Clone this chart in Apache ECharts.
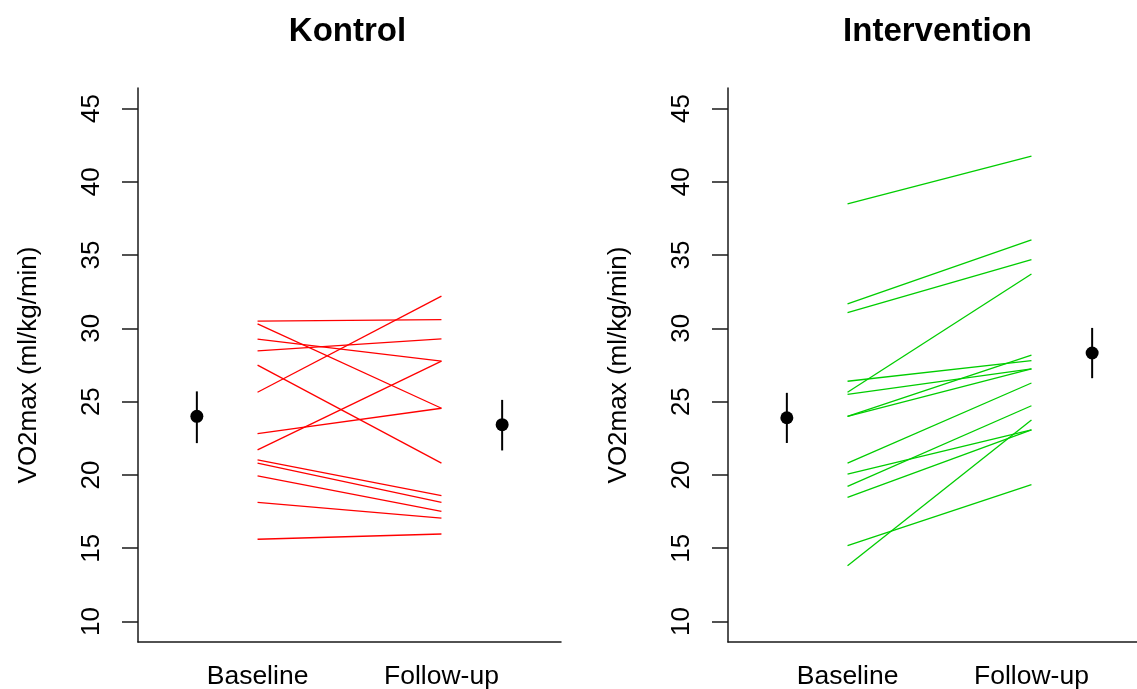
<!DOCTYPE html>
<html>
<head>
<meta charset="utf-8">
<script src="https://cdn.jsdelivr.net/npm/echarts@6/dist/echarts.min.js"></script>
<style>
  html, body { margin: 0; padding: 0; background: #ffffff; }
  #chart { width: 1137px; height: 689px; }
</style>
</head>
<body>
<div id="chart"></div>
<script>
// Measurement occasions (x positions 1 and 2)
const timepoints = ['Baseline', 'Follow-up'];
const yTicks = [10, 15, 20, 25, 30, 35, 40, 45];

// Kontrol: one value per subject at each occasion
const kontrolBaseline = [30.49, 30.3, 29.26, 28.46, 27.49, 25.64, 22.82, 21.71, 21.02, 20.8, 19.93, 18.13, 15.61];
const kontrolFollowup = [30.6, 24.55, 27.76, 29.28, 20.8, 32.2, 24.55, 27.76, 18.59, 18.13, 17.52, 17.05, 15.97];

// Intervention: one value per subject at each occasion
const interventionBaseline = [38.49, 31.67, 31.07, 26.39, 25.64, 25.5, 24.0, 24.0, 20.81, 20.06, 19.22, 18.47, 15.17, 13.8];
const interventionFollowup = [41.75, 36.03, 34.69, 27.8, 33.71, 27.23, 28.18, 27.23, 26.27, 23.07, 24.72, 23.07, 19.33, 23.75];

// Group means with interval, drawn beside each occasion
const meanX = [0.67, 2.33];
const kontrolMean = [24.0, 23.43];
const kontrolLower = [22.17, 21.67];
const kontrolUpper = [25.7, 25.12];
const interventionMean = [23.9, 28.32];
const interventionLower = [22.18, 26.6];
const interventionUpper = [25.6, 30.03];

const FONT = "'Liberation Sans', Arial, sans-serif";
const AXIS_COLOR = '#1a1a1a';

function xAxisFor(gridIndex) {
  return {
    gridIndex, type: 'value', min: 0.35, max: 2.65,
    axisLine: { show: true, onZero: false, lineStyle: { color: AXIS_COLOR, width: 1.5 } },
    axisTick: { show: false },
    splitLine: { show: false },
    axisLabel: {
      customValues: [1, 2],
      formatter: v => timepoints[Math.round(v) - 1],
      fontFamily: FONT, fontSize: 26.5, color: '#000', margin: 21
    }
  };
}

function yAxisFor(gridIndex) {
  return {
    gridIndex, type: 'value', min: 8.6, max: 46.4,
    name: 'VO2max (ml/kg/min)', nameLocation: 'middle', nameGap: 96, nameRotate: 90,
    nameTextStyle: { fontFamily: FONT, fontSize: 26, color: '#000' },
    axisLine: { show: true, onZero: false, lineStyle: { color: AXIS_COLOR, width: 1.5 } },
    axisTick: { show: true, length: 16, customValues: yTicks, lineStyle: { color: AXIS_COLOR, width: 1.5 } },
    splitLine: { show: false },
    axisLabel: {
      customValues: yTicks, rotate: 90, margin: 33,
      fontFamily: FONT, fontSize: 26, color: '#000'
    }
  };
}

// One line per subject joining its two occasions
function subjectLines(axisIndex, before, after, color) {
  return before.map((b, i) => ({
    type: 'line', xAxisIndex: axisIndex, yAxisIndex: axisIndex,
    data: [[1, b], [2, after[i]]],
    symbol: 'none', silent: true,
    lineStyle: { color, width: 1.3 }
  }));
}

// Mean dot with a vertical interval bar
function meanBars(axisIndex, means, lows, highs) {
  return {
    type: 'custom', xAxisIndex: axisIndex, yAxisIndex: axisIndex, silent: true,
    data: means.map((m, i) => [meanX[i], m, lows[i], highs[i]]),
    renderItem(params, api) {
      const x = api.value(0);
      const top = api.coord([x, api.value(3)]);
      const bot = api.coord([x, api.value(2)]);
      const c = api.coord([x, api.value(1)]);
      return {
        type: 'group',
        children: [
          { type: 'line', shape: { x1: top[0], y1: top[1], x2: bot[0], y2: bot[1] },
            style: { stroke: '#000', lineWidth: 2 } },
          { type: 'circle', shape: { cx: c[0], cy: c[1], r: 6.5 }, style: { fill: '#000' } }
        ]
      };
    }
  };
}

const chart = echarts.init(document.getElementById('chart'), null, { renderer: 'canvas' });
chart.setOption({
  animation: false,
  backgroundColor: '#ffffff',
  // Both panels share the same size; the right one runs past the page edge
  grid: [
    { left: 138, top: 88, width: 423, height: 554, outerBoundsMode: 'none' },
    { left: 728, top: 88, width: 423, height: 554, outerBoundsMode: 'none' }
  ],
  xAxis: [xAxisFor(0), xAxisFor(1)],
  yAxis: [yAxisFor(0), yAxisFor(1)],
  graphic: [
    { type: 'text', x: 347.5, y: 32,
      style: { text: 'Kontrol', font: "bold 33px " + FONT, fill: '#000', textAlign: 'center', textVerticalAlign: 'middle' } },
    { type: 'text', x: 937.5, y: 32,
      style: { text: 'Intervention', font: "bold 33px " + FONT, fill: '#000', textAlign: 'center', textVerticalAlign: 'middle' } }
  ],
  series: [
    ...subjectLines(0, kontrolBaseline, kontrolFollowup, '#ff0000'),
    ...subjectLines(1, interventionBaseline, interventionFollowup, '#00cd00'),
    meanBars(0, kontrolMean, kontrolLower, kontrolUpper),
    meanBars(1, interventionMean, interventionLower, interventionUpper)
  ]
});
</script>
</body>
</html>
